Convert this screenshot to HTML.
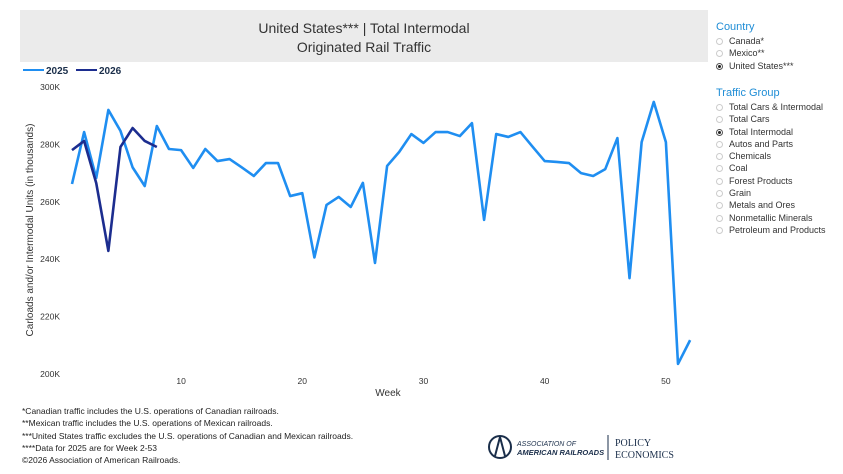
<!DOCTYPE html>
<html><head><meta charset="utf-8">
<style>
body{margin:0;width:843px;height:474px;background:#fff;font-family:"Liberation Sans",Arial,sans-serif;position:relative;overflow:hidden}
.abs{position:absolute}
.title{left:20px;top:10px;width:688px;height:52px;background:#ebebeb;text-align:center;color:#333;font-size:14px;line-height:19px;padding-top:9px;box-sizing:border-box}
.panel{left:716px;font-size:9px;color:#333}
.ph{color:#1f8dd6;font-size:11px;margin-bottom:2px}
.opt{height:12.3px;line-height:12.3px;white-space:nowrap}
.rad{display:inline-block;width:7px;height:7px;border:1px solid #ccc;border-radius:50%;margin-right:6px;vertical-align:-1px;box-sizing:border-box;position:relative}
.rad.on{border-color:#555}
.rad.on::after{content:"";position:absolute;left:1px;top:1px;width:3px;height:3px;border-radius:50%;background:#222}
.foot{left:22px;top:405px;font-size:8.5px;color:#222;line-height:12.3px}
</style></head><body>
<div class="abs title">United States*** | Total Intermodal<br>Originated Rail Traffic</div>
<div class="abs panel" style="top:21px">
<div class="ph">Country</div>
<div class="opt"><span class="rad"></span>Canada*</div>
<div class="opt"><span class="rad"></span>Mexico**</div>
<div class="opt"><span class="rad on"></span>United States***</div>
</div>
<div class="abs panel" style="top:87px">
<div class="ph">Traffic Group</div>
<div class="opt"><span class="rad"></span>Total Cars &amp; Intermodal</div>
<div class="opt"><span class="rad"></span>Total Cars</div>
<div class="opt"><span class="rad on"></span>Total Intermodal</div>
<div class="opt"><span class="rad"></span>Autos and Parts</div>
<div class="opt"><span class="rad"></span>Chemicals</div>
<div class="opt"><span class="rad"></span>Coal</div>
<div class="opt"><span class="rad"></span>Forest Products</div>
<div class="opt"><span class="rad"></span>Grain</div>
<div class="opt"><span class="rad"></span>Metals and Ores</div>
<div class="opt"><span class="rad"></span>Nonmetallic Minerals</div>
<div class="opt"><span class="rad"></span>Petroleum and Products</div>
</div>
<svg class="abs" style="left:0;top:0" width="843" height="400" id="chart">
<g>
<line x1="23" y1="70" x2="44" y2="70" stroke="#1f8ef1" stroke-width="2"/>
<text x="46" y="74" font-size="10" font-weight="bold" fill="#1a2e4a">2025</text>
<line x1="76" y1="70" x2="97" y2="70" stroke="#1c2d8f" stroke-width="2"/>
<text x="99" y="74" font-size="10" font-weight="bold" fill="#1a2e4a">2026</text>
</g>
<text transform="translate(33,230) rotate(-90)" text-anchor="middle" font-size="10" fill="#333">Carloads and/or Intermodal Units (in thousands)</text>
<text x="388" y="396" text-anchor="middle" font-size="10" fill="#333">Week</text>
<g id="yt"></g><g id="xt"></g><g id="lines"></g>
</svg>
<div class="abs foot">
*Canadian traffic includes the U.S. operations of Canadian railroads.<br>
**Mexican traffic includes the U.S. operations of Mexican railroads.<br>
***United States traffic excludes the U.S. operations of Canadian and Mexican railroads.<br>
****Data for 2025 are for Week 2-53<br>
©2026 Association of American Railroads.</div>
<div class="abs" style="left:487px;top:432px;width:200px;height:30px">
<svg width="200" height="30"><circle cx="13" cy="15" r="11" fill="none" stroke="#1a2e4a" stroke-width="2"/><path d="M13 5 L8 24 M13 5 L18 24" stroke="#1a2e4a" stroke-width="2"/>
<text x="30" y="14" font-size="7" font-style="italic" fill="#1a2e4a">ASSOCIATION OF</text>
<text x="30" y="23" font-size="7.5" font-weight="bold" font-style="italic" fill="#1a2e4a">AMERICAN RAILROADS</text>
<line x1="121" y1="3" x2="121" y2="28" stroke="#1a2e4a"/>
<text x="128" y="14" font-size="10" font-family="Liberation Serif" fill="#1a2e4a">POLICY</text>
<text x="128" y="26" font-size="10" font-family="Liberation Serif" fill="#1a2e4a">ECONOMICS</text></svg></div>
<script>
const yTicks=[200,220,240,260,280,300];
const xTicks=[10,20,30,40,50];
const weeks2025=[1,2,3,4,5,6,7,8,9,10,11,12,13,14,15,16,17,18,19,20,21,22,23,24,25,26,27,28,29,30,31,32,33,34,35,36,37,38,39,40,41,42,43,44,45,46,47,48,49,50,51,52];
const values2025=[266.2,284.3,268.3,292,284.7,272,265.5,286.4,278.4,278,271.8,278.4,274.2,274.9,272,269,273.5,273.5,262,263,240.6,258.9,261.7,258.2,266.6,238.7,272.5,277.4,283.6,280.5,284.3,284.3,282.9,287.4,253.7,283.6,282.6,284.3,279.2,274.2,273.9,273.5,270,269,271.4,282.2,233.4,280.8,294.8,280.8,203.5,211.8];
const weeks2026=[1,2,3,4,5,6,7,8];
const values2026=[278,281.2,266.5,242.9,279.1,285.7,281.2,279.1];
const ns="http://www.w3.org/2000/svg";
const X=w=>72+(w-1)*12.12;
const Y=v=>374-(v-200)*2.87;
function mk(t,a,p){const e=document.createElementNS(ns,t);for(const k in a)e.setAttribute(k,a[k]);p.appendChild(e);return e;}
const yt=document.getElementById('yt'),xt=document.getElementById('xt'),lg=document.getElementById('lines');
yTicks.forEach(v=>{const t=mk('text',{x:60,y:Y(v)+3,'text-anchor':'end','font-size':8.5,fill:'#333'},yt);t.textContent=v+'K';

});
xTicks.forEach(w=>{const t=mk('text',{x:X(w),y:384,'text-anchor':'middle','font-size':8.5,fill:'#333'},xt);t.textContent=w;

});
function line(ws,vs,c,name){const p=mk('polyline',{points:ws.map((w,i)=>X(w)+','+Y(vs[i])).join(' '),fill:'none',stroke:c,'stroke-width':2.6,'stroke-linejoin':'round'},lg);

}
line(weeks2025,values2025,'#1f8ef1','series-2025-line');
line(weeks2026,values2026,'#1c2d8f','series-2026-line');
</script>
</body></html>
